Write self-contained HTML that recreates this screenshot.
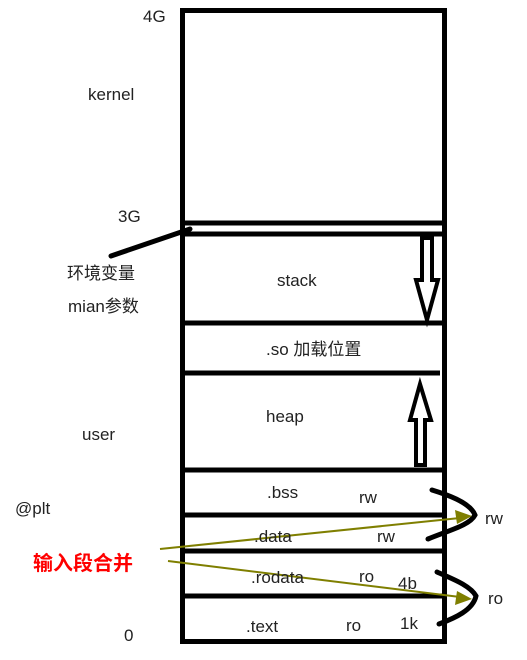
<!DOCTYPE html>
<html><head><meta charset="utf-8"><style>
html,body{margin:0;padding:0;background:#fff;}
svg{display:block;}
text{font-family:"Liberation Sans","Noto Sans CJK SC",sans-serif;font-size:17px;fill:#222;}
</style></head><body>
<svg width="527" height="660" viewBox="0 0 527 660" xmlns="http://www.w3.org/2000/svg">
<rect x="182.5" y="10.5" width="262" height="631" fill="none" stroke="#000" stroke-width="5"/>
<g stroke="#000" stroke-width="5" fill="none">
<line x1="182" y1="223" x2="447" y2="223"/>
<line x1="182" y1="234" x2="447" y2="234"/>
<line x1="182" y1="323" x2="443" y2="323"/>
<line x1="182" y1="373" x2="440" y2="373"/>
<line x1="182" y1="470" x2="447" y2="470"/>
<line x1="182" y1="515" x2="447" y2="515"/>
<line x1="182" y1="551" x2="447" y2="551"/>
<line x1="182" y1="596" x2="447" y2="596"/>
<line x1="111" y1="256" x2="190" y2="229" stroke-width="5" stroke-linecap="round"/>
</g>
<!-- stack arrow down -->
<path d="M422,238 L432,238 L432,280 L438,280 L427,320 L416,280 L422,280 Z" fill="#fff" stroke="#000" stroke-width="4"/>
<!-- heap arrow up -->
<path d="M416,465 L425,465 L425,420 L431,420 L420,384 L410,420 L416,420 Z" fill="#fff" stroke="#000" stroke-width="4"/>
<!-- braces -->
<path d="M432,490 C445,494 470,502 475,515 C470,525 450,530 428,539" fill="none" stroke="#000" stroke-width="5" stroke-linecap="round"/>
<path d="M437,572 C450,578 470,585 476,596 C473,610 455,618 439,624" fill="none" stroke="#000" stroke-width="5" stroke-linecap="round"/>
<!-- olive arrows -->
<g stroke="#7f7f00" stroke-width="2" fill="#7f7f00">
<line x1="160" y1="549" x2="460" y2="518"/>
<polygon points="472,516 455,510 457,524" stroke="none"/>
<line x1="168" y1="561" x2="460" y2="597"/>
<polygon points="472,599 457,591 455,605" stroke="none"/>
</g>
<text x="143" y="22">4G</text>
<text x="88" y="100">kernel</text>
<text x="118" y="222">3G</text>
<text x="67" y="279">环境变量</text>
<text x="68" y="312">mian参数</text>
<text x="82" y="440">user</text>
<text x="15" y="514">@plt</text>
<text x="124" y="641">0</text>
<text x="277" y="286">stack</text>
<text x="266" y="355">.so 加载位置</text>
<text x="266" y="422">heap</text>
<text x="267" y="498">.bss</text>
<text x="359" y="503">rw</text>
<text x="254" y="542">.data</text>
<text x="377" y="542">rw</text>
<text x="251" y="583">.rodata</text>
<text x="359" y="582">ro</text>
<text x="398" y="589">4b</text>
<text x="246" y="632">.text</text>
<text x="346" y="631">ro</text>
<text x="400" y="629">1k</text>
<text x="485" y="524">rw</text>
<text x="488" y="604">ro</text>
<text x="33" y="570" style="font-size:20px;fill:#f00;font-weight:bold;">输入段合并</text>
</svg>
</body></html>
